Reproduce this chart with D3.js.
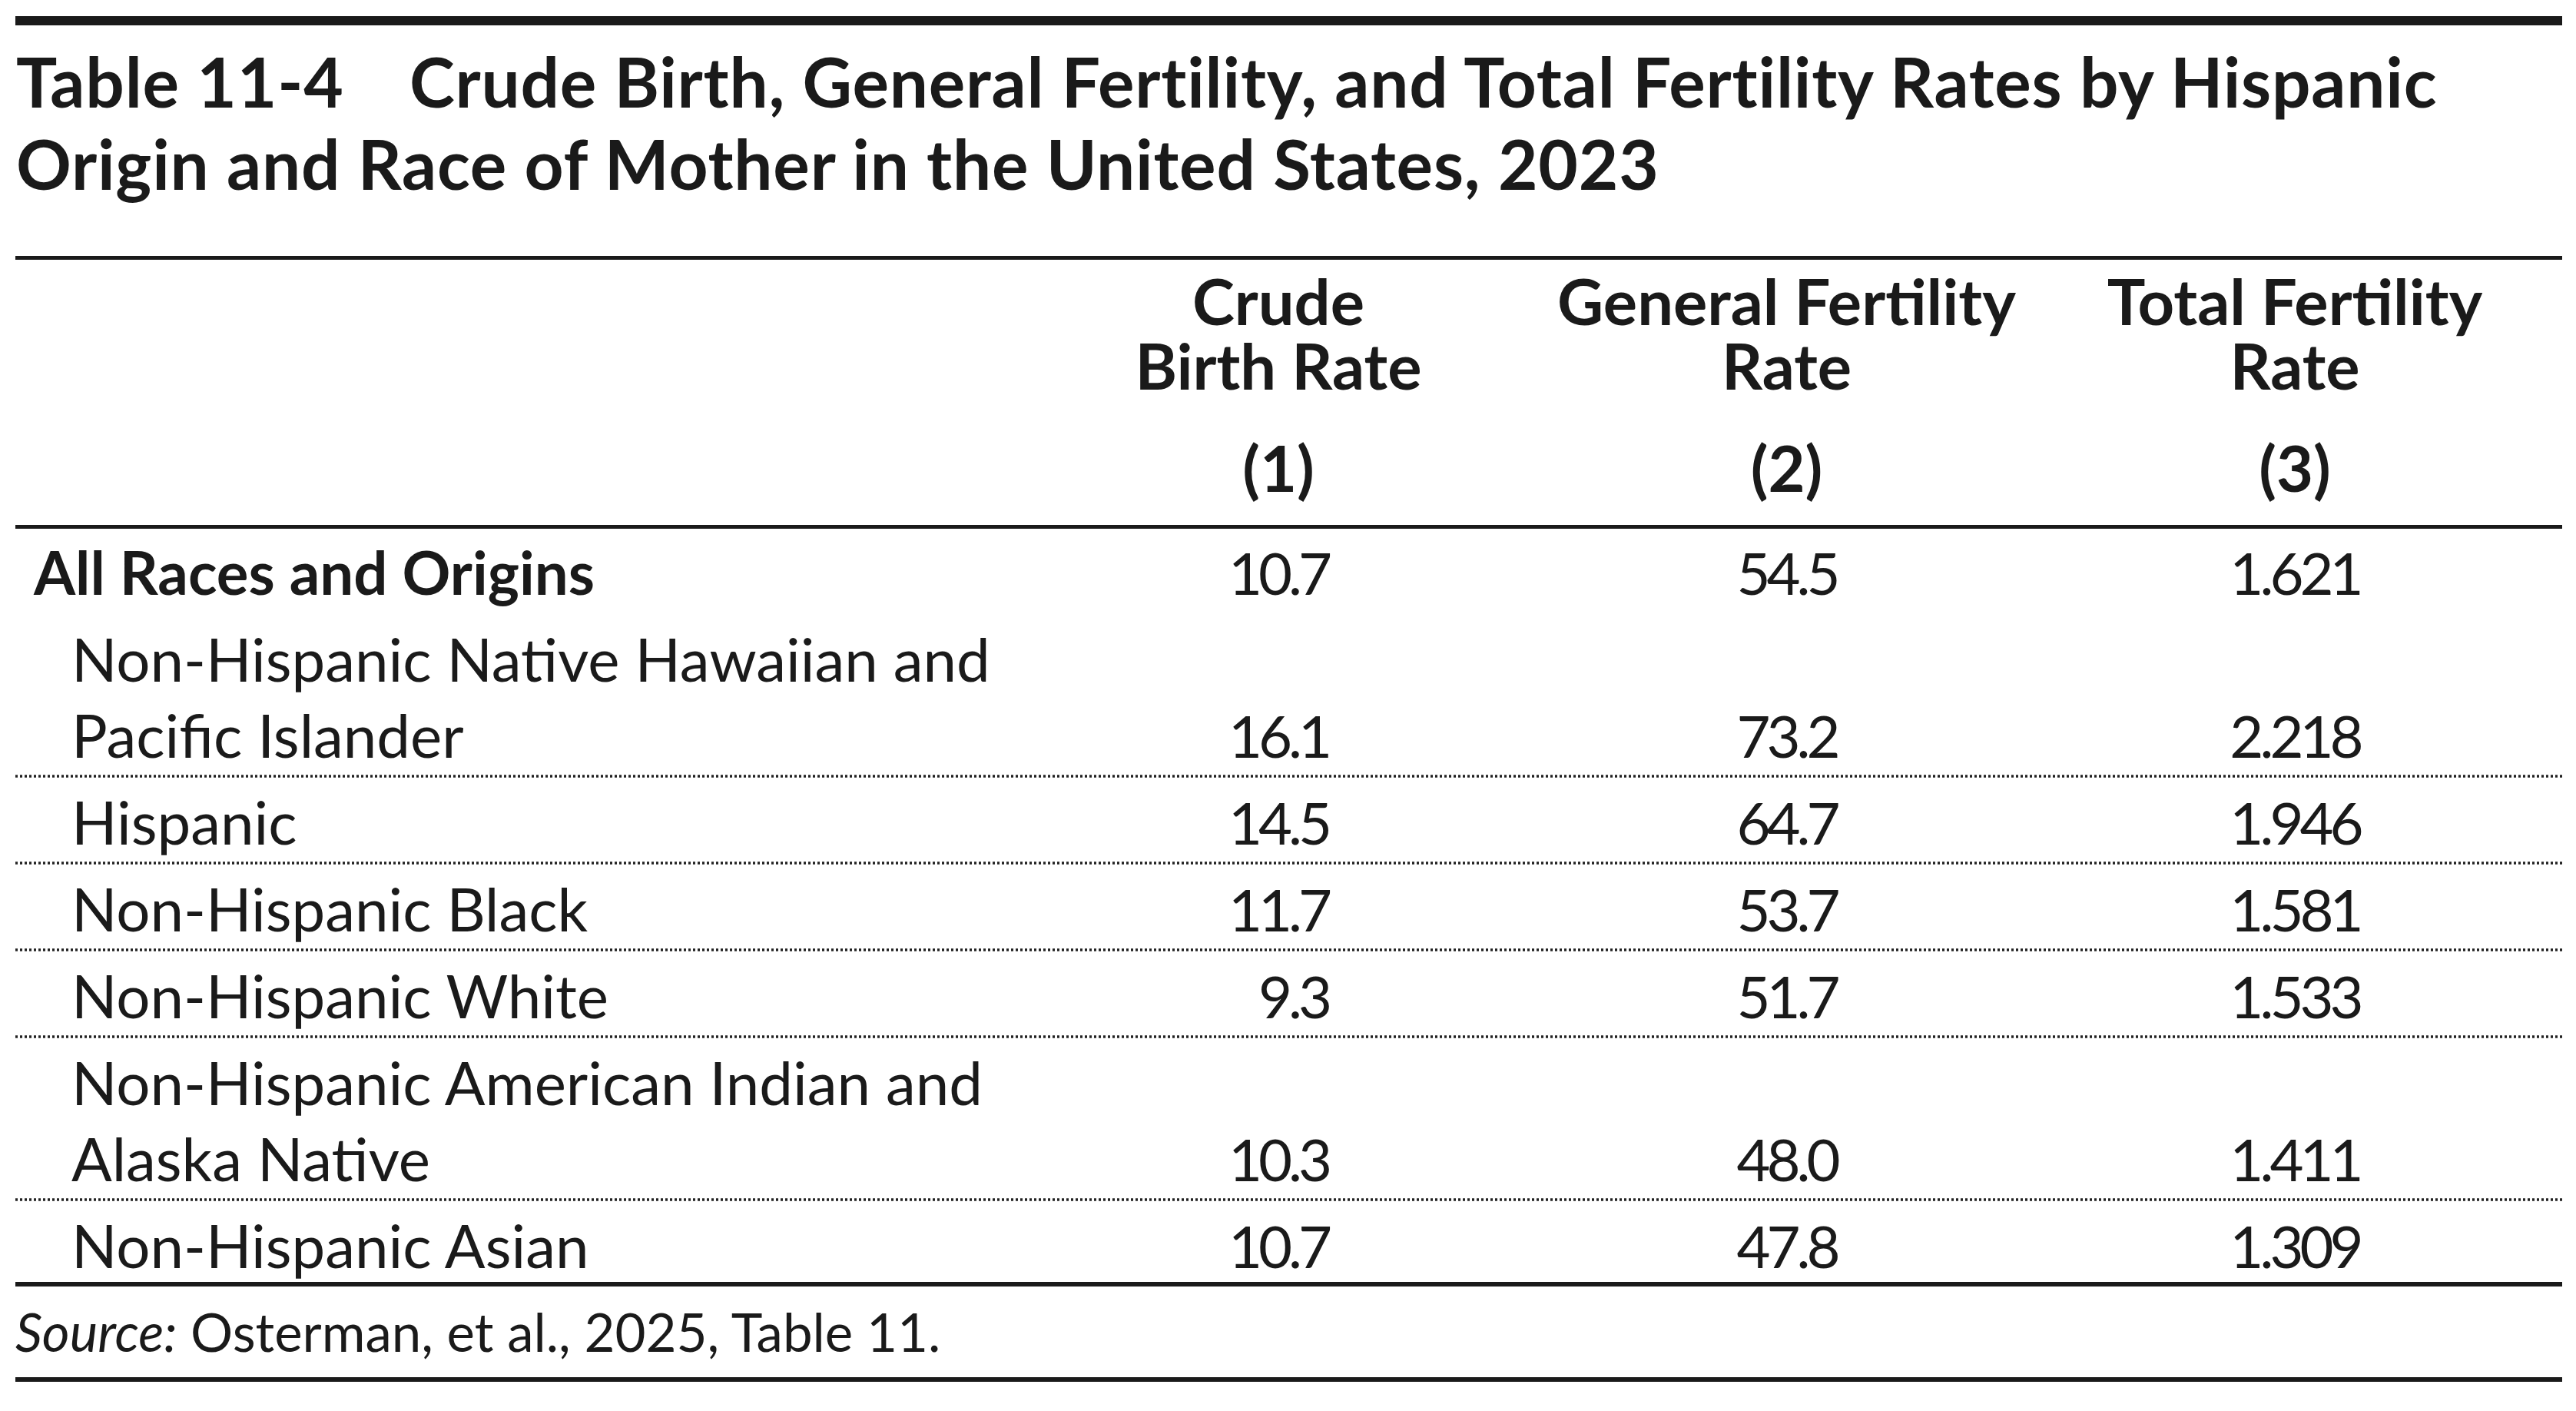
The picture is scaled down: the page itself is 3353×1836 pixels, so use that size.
<!DOCTYPE html>
<html>
<head>
<meta charset="utf-8">
<script src="https://cdn.jsdelivr.net/npm/d3@7"></script>
<style>
  body { margin: 0; background: #fff; }
  text { font-family: Lato, "Open Sans", sans-serif; fill: #1a1a1a; }
</style>
</head>
<body>
<script>
const titleLabel = 'Table 11-4'
const titleLines = [
    'Crude Birth, General Fertility, and Total Fertility Rates by Hispanic',
    'Origin and Race of Mother in the United States, 2023'
]

const columnHeads = [
    ['Crude', 'Birth Rate'],
    ['General Fertility', 'Rate'],
    ['Total Fertility', 'Rate']
]
const columnNumbers = ['(1)', '(2)', '(3)']

const groups = [
    ['All Races and Origins'],
    ['Non-Hispanic Native Hawaiian and', 'Pacific Islander'],
    ['Hispanic'],
    ['Non-Hispanic Black'],
    ['Non-Hispanic White'],
    ['Non-Hispanic American Indian and', 'Alaska Native'],
    ['Non-Hispanic Asian']
]

const crudeBirthRate = [10.7, 16.1, 14.5, 11.7, 9.3, 10.3, 10.7]
const generalFertilityRate = [54.5, 73.2, 64.7, 53.7, 51.7, 48.0, 47.8]
const totalFertilityRate = [1.621, 2.218, 1.946, 1.581, 1.533, 1.411, 1.309]

const sourceNote = ['Source:', ' Osterman, et al., 2025, Table 11.']

const W = 3353, H = 1836
const left = 20, right = 3335
const fontSize = 78

const svg = d3.select('body').append('svg')
    .attr('width', W)
    .attr('height', H)

function rule(y, h) {
    svg.append('rect')
        .attr('x', left)
        .attr('y', y)
        .attr('width', right - left)
        .attr('height', h)
        .attr('fill', '#1a1a1a')
}

// title block
rule(21, 12)

let title = svg.append('text')
    .attr('font-weight', 700)
    .attr('font-size', 89)
    .attr('letter-spacing', 0.8)

title.append('tspan').attr('x', 21).attr('y', 140).text(titleLabel)
title.append('tspan').attr('x', 533).attr('y', 140).text(titleLines[0])
title.append('tspan').attr('x', 21).attr('y', 247).text(titleLines[1])

rule(333, 5)

// column headers
const x = d3.scalePoint()
    .domain(columnNumbers)
    .range([1664, 2987])

columnNumbers.forEach(function (num, i) {
    let g = svg.append('text')
        .attr('font-weight', 700)
        .attr('font-size', 83)
        .attr('text-anchor', 'middle')

    g.append('tspan').attr('x', x(num)).attr('y', 423).text(columnHeads[i][0])
    g.append('tspan').attr('x', x(num)).attr('y', 507).text(columnHeads[i][1])
    g.append('tspan').attr('x', x(num)).attr('y', 640).text(num)
})

rule(683, 5)

// row layout: baseline of each label line
const rowStep = 113, lineStep = 99
let rows = []
let y = 774
groups.forEach(function (lines, i) {
    if (i > 0) y += rowStep
    let first = y
    y += (lines.length - 1) * lineStep
    rows.push({ lines: lines, first: first, last: y, i: i })
})

rows.forEach(function (r) {
    let t = svg.append('text')
        .attr('font-size', fontSize)
        .attr('font-weight', r.i === 0 ? 700 : 400)

    r.lines.forEach(function (line, k) {
        t.append('tspan')
            .attr('x', r.i === 0 ? 44 : 93)
            .attr('y', r.first + k * lineStep)
            .text(line)
    })

    if (r.i > 0 && r.i < rows.length - 1) {
        svg.append('line')
            .attr('x1', left)
            .attr('x2', right)
            .attr('y1', r.last + 24)
            .attr('y2', r.last + 24)
            .attr('stroke', '#222')
            .attr('stroke-width', 3.5)
            .attr('stroke-dasharray', '3,3')
    }
})

// values, decimal aligned: right edge = column centre + half of widest value
const columns = [
    { values: crudeBirthRate, fmt: d3.format('.1f') },
    { values: generalFertilityRate, fmt: d3.format('.1f') },
    { values: totalFertilityRate, fmt: d3.format('.3f') }
]

columns.forEach(function (col, c) {
    let cells = svg.append('g').selectAll('text')
        .data(col.values)
        .join('text')
        .attr('font-size', 76)
        .attr('letter-spacing', -5)
        .style('font-variant-numeric', 'tabular-nums')
        .attr('y', (d, i) => rows[i].last)
        .text(d => col.fmt(d))

    let widest = d3.max(cells.nodes(), n => n.getComputedTextLength())
    cells.attr('x', x(columnNumbers[c]) + widest / 2)
        .attr('text-anchor', 'end')
})

rule(1668, 6)

// source
let src = svg.append('text')
    .attr('x', 20)
    .attr('y', 1759)
    .attr('font-size', 69)

src.append('tspan').attr('font-style', 'italic').text(sourceNote[0])
src.append('tspan').text(sourceNote[1])

rule(1792, 6)
</script>
</body>
</html>
